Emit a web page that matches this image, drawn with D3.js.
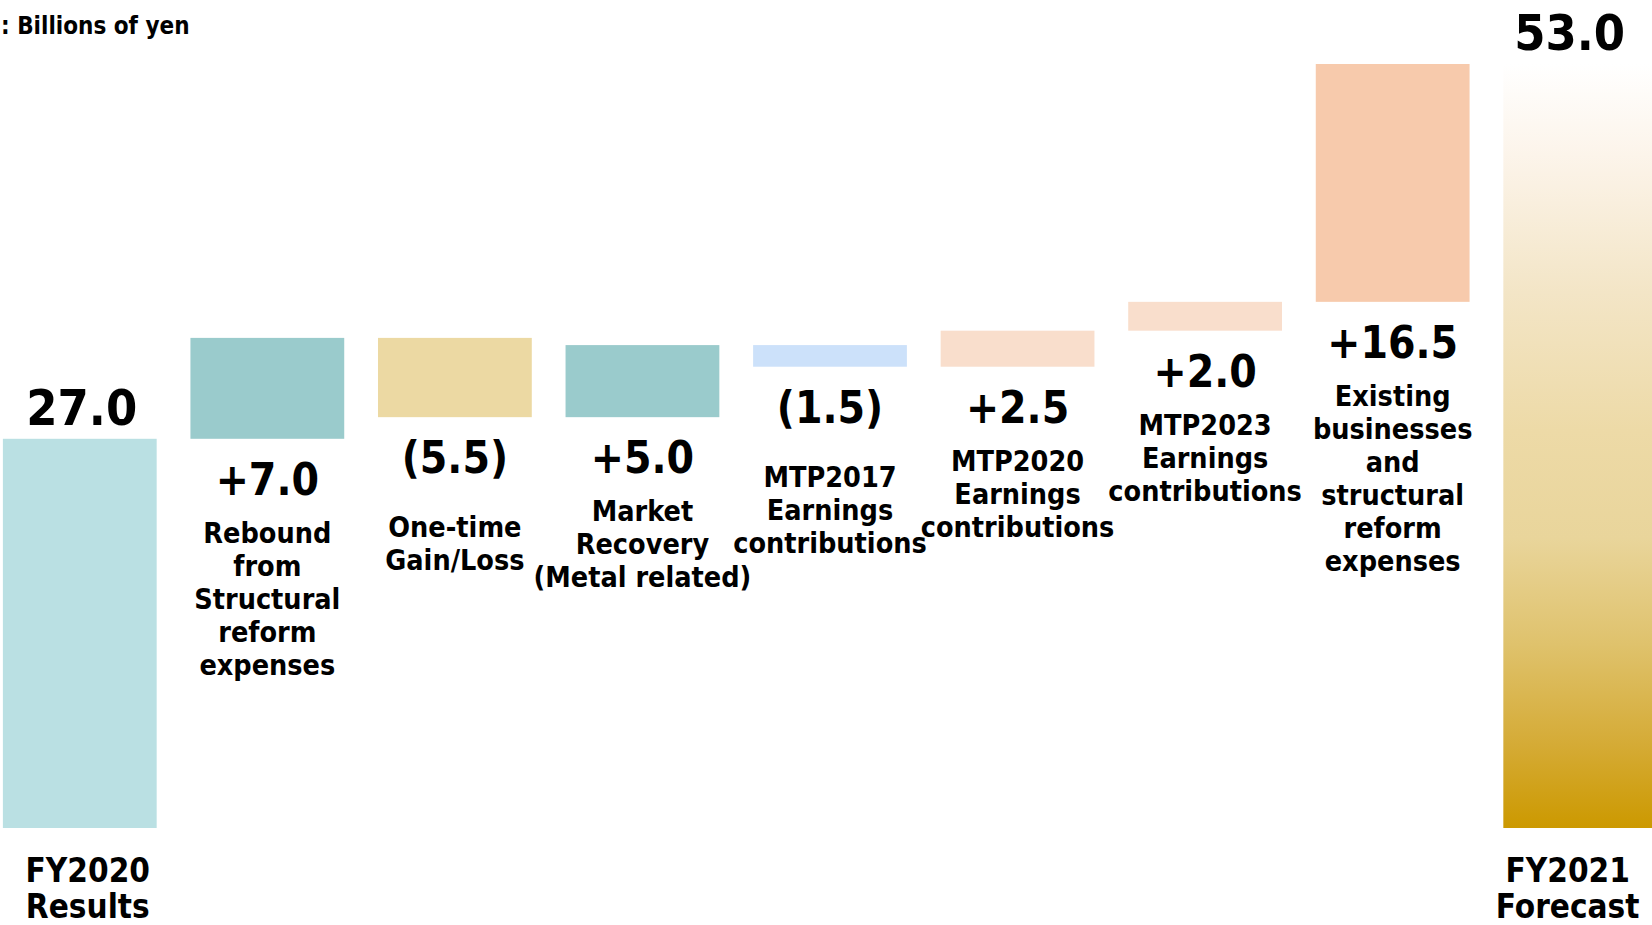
<!DOCTYPE html>
<html>
<head>
<meta charset="utf-8">
<script src="https://cdn.jsdelivr.net/npm/d3@7"></script>
<style>
  html, body { margin: 0; padding: 0; background: #ffffff; overflow: hidden; }
  svg { display: block; }
  text { font-family: "DejaVu Sans Condensed", "DejaVu Sans", sans-serif; font-stretch: semi-condensed; font-weight: bold; fill: #000; }
</style>
</head>
<body>
<svg id="chart" width="1652" height="925"></svg>
<script>
// ---------------- data ----------------
const categories = [
  "FY2020 Results",
  "Rebound from Structural reform expenses",
  "One-time Gain/Loss",
  "Market Recovery (Metal related)",
  "MTP2017 Earnings contributions",
  "MTP2020 Earnings contributions",
  "MTP2023 Earnings contributions",
  "Existing businesses and structural reform expenses",
  "FY2021 Forecast"
];
const values = [27.0, 7.0, -5.5, 5.0, -1.5, 2.5, 2.0, 16.5, 53.0];
const kinds = ["total", "delta", "delta", "delta", "delta", "delta", "delta", "delta", "total"];
const valueLabels = ["27.0", "+7.0", "(5.5)", "+5.0", "(1.5)", "+2.5", "+2.0", "+16.5", "53.0"];
const descLines = [
  ["FY2020", "Results"],
  ["Rebound", "from", "Structural", "reform", "expenses"],
  ["One-time", "Gain/Loss"],
  ["Market", "Recovery", "(Metal related)"],
  ["MTP2017", "Earnings", "contributions"],
  ["MTP2020", "Earnings", "contributions"],
  ["MTP2023", "Earnings", "contributions"],
  ["Existing", "businesses", "and", "structural", "reform", "expenses"],
  ["FY2021", "Forecast"]
];
const unitLabel = ": Billions of yen";

// ---------------- styles ----------------
const fills = ["#BAE0E3", "#9ACBCC", "#ECD9A3", "#9ACBCC", "#CCE1FA", "#F9DECC", "#F9DECC", "#F7CAAC", "url(#fcGrad)"];

// ---------------- layout ----------------
const W = 1652, H = 925;
const svg = d3.select("#chart");

const x = d3.scaleBand()
  .domain(d3.range(categories.length))
  .range([-14, 1674])
  .paddingInner(0.18)
  .paddingOuter(0.09);

const y = d3.scaleLinear().domain([0, 53]).range([828, 64]);

// gradient for forecast bar
const defs = svg.append("defs");
const grad = defs.append("linearGradient")
  .attr("id", "fcGrad").attr("x1", 0).attr("y1", 0).attr("x2", 0).attr("y2", 1);
[[0, "#FFFFFF"], [0.12, "#FCF4EA"], [0.3, "#F3E5C6"], [0.48, "#EDDAA7"], [0.62, "#E9D59B"],
 [0.76, "#DFC26C"], [0.89, "#D5AB36"], [1, "#CC9900"]].forEach(([o, c]) =>
  grad.append("stop").attr("offset", o).attr("stop-color", c));

// compute waterfall segments
let running = 0;
const segs = values.map((v, i) => {
  let lo, hi;
  if (kinds[i] === "total") { lo = 0; hi = v; running = v; }
  else { const s = running, e = running + v; lo = Math.min(s, e); hi = Math.max(s, e); running = e; }
  return { i, v, lo, hi, kind: kinds[i] };
});

// bars
svg.append("g").selectAll("rect")
  .data(segs)
  .join("rect")
  .attr("x", d => x(d.i))
  .attr("width", x.bandwidth())
  .attr("y", d => y(d.hi))
  .attr("height", d => y(d.lo) - y(d.hi))
  .attr("fill", d => fills[d.i]);

// centre of the visible part of a band
const cx = i => (x(i) + Math.min(x(i) + x.bandwidth(), W)) / 2;

// value labels
svg.append("g").selectAll("text")
  .data(segs)
  .join("text")
  .attr("text-anchor", "middle")
  .attr("x", d => d.kind === "total" ? cx(d.i) + (d.i === 0 ? 2 : -8) : cx(d.i))
  .attr("y", d => d.kind === "total" ? y(d.hi) - 14 : y(d.lo) + 56)
  .style("font-size", d => d.kind === "total" ? "50px" : "44px")
  .text(d => valueLabels[d.i]);

// description labels under delta bars
const descG = svg.append("g");
segs.filter(d => d.kind === "delta").forEach(d => {
  const base = y(d.lo) + 56 + (d.v < 0 ? 64 : 48);
  const t = descG.append("text")
    .attr("text-anchor", "middle")
    .style("font-size", "28.5px");
  descLines[d.i].forEach((line, k) => {
    t.append("tspan").attr("x", cx(d.i)).attr("y", base + k * 33).text(line);
  });
});

// category labels under total bars
segs.filter(d => d.kind === "total").forEach(d => {
  const t = descG.append("text")
    .attr("text-anchor", "middle")
    .style("font-size", "33px");
  descLines[d.i].forEach((line, k) => {
    t.append("tspan").attr("x", cx(d.i) + (d.i === 0 ? 8 : -10)).attr("y", y(0) + 54 + k * 36).text(line);
  });
});

// unit label
svg.append("text")
  .attr("x", 1).attr("y", 34)
  .style("font-size", "24px")
  .text(unitLabel);
</script>
</body>
</html>
